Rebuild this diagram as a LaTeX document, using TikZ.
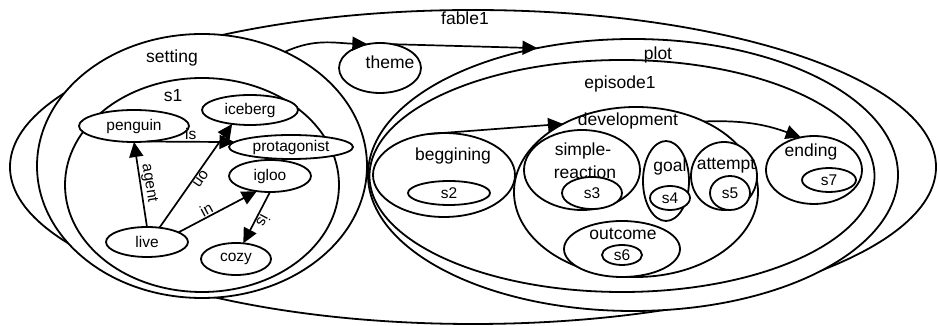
\documentclass[tikz,border=0pt]{standalone}
\usepackage{fontspec}
\setmainfont{Liberation Sans}
\usetikzlibrary{arrows.meta,shapes.geometric}

\tikzset{
  blob/.style={ellipse, draw, fill=white, line width=1.8pt, inner sep=0pt, outer sep=0pt},
  leaf/.style={blob, font=\fontsize{15.5}{15.5}\selectfont},
  clbl/.style={font=\fontsize{17.5}{17.5}\selectfont, inner sep=0pt},
  elbl/.style={font=\fontsize{15.5}{15.5}\selectfont, inner sep=1pt, anchor=south},
  arr/.style={line width=1.7pt, -{Triangle[length=15pt,width=14pt]}},
}

\begin{document}
\begin{tikzpicture}[x=1pt,y=1pt]
\useasboundingbox (0,0) rectangle (938,326);

% outer story
\node[blob, minimum width=926pt, minimum height=314pt] (fable1) at (473,159) {};

% setting cluster
\node[blob, minimum width=330pt, minimum height=264pt] (setting) at (202,160) {};
\node[blob, minimum width=274pt, minimum height=214pt] (s1) at (202,141) {};
\node[leaf, minimum width=110pt, minimum height=32pt] (penguin) at (134,200) {penguin};
\node[leaf, minimum width=96pt, minimum height=30pt] (iceberg) at (250,216) {iceberg};
\node[leaf, minimum width=124pt, minimum height=24pt] (protagonist) at (291,179) {protagonist};
\node[leaf, minimum width=82pt, minimum height=32pt] (igloo) at (270,150) {igloo};
\node[leaf, minimum width=82pt, minimum height=30pt] (live) at (147,84) {live};
\node[leaf, minimum width=70pt, minimum height=32pt] (cozy) at (236,67) {cozy};

% theme
\node[blob, minimum width=82pt, minimum height=50pt] (theme) at (380,258) {};

% plot cluster
\node[blob, minimum width=530pt, minimum height=272pt] (plot) at (633,151) {};
\node[blob, minimum width=505pt, minimum height=232pt] (episode1) at (622,150) {};
\node[blob, minimum width=142pt, minimum height=84pt] (beggining) at (444,151) {};
\node[leaf, minimum width=82pt, minimum height=24pt] (s2) at (449,133) {s2};
\node[blob, minimum width=244pt, minimum height=170pt] (development) at (636,134) {};
\node[blob, minimum width=116pt, minimum height=80pt] (simplereaction) at (582,156) {};
\node[leaf, minimum width=60pt, minimum height=32pt] (s3) at (592,133) {s3};
\node[blob, minimum width=46pt, minimum height=80pt] (goal) at (666,145) {};
\node[leaf, minimum width=40pt, minimum height=24pt] (s4) at (670,128) {s4};
\node[blob, minimum width=66pt, minimum height=68pt] (attempt) at (724,150) {};
\node[leaf, minimum width=40pt, minimum height=34pt] (s5) at (730,133) {s5};
\node[blob, minimum width=116pt, minimum height=56pt] (outcome) at (622,77) {};
\node[leaf, minimum width=40pt, minimum height=20pt] (s6) at (622,71) {s6};
\node[blob, minimum width=96pt, minimum height=68pt] (ending) at (814,156) {};
\node[leaf, minimum width=54pt, minimum height=24pt] (s7) at (829,146) {s7};

% connectors between clusters
\draw[arr] (setting.54) to[out=25,in=178] (theme.118);
\draw[arr] (theme.62) -- (plot.127);
\draw[arr] (beggining.112) -- (development.137);
\draw[arr] (development.46) to[out=2,in=160] (ending.112);

% connectors inside s1
\draw[arr] (penguin.-50) -- (protagonist.175) node[elbl,pos=0.5] {is};
\draw[arr] (live.north) -- (penguin.south) node[elbl,pos=0.5,rotate=-81] {agent};
\draw[arr] (live.49) -- (iceberg.218) node[elbl,pos=0.5,rotate=-125] {on};
\draw[arr] (live.17) -- (igloo.229) node[elbl,pos=0.4,rotate=28] {in};
\draw[arr] (igloo.south) -- (cozy.65) node[elbl,pos=0.5,rotate=-118] {is};

% cluster titles
\node[clbl] (tfable1) at (465,308) {fable1};
\node[clbl] (tsetting) at (172,268) {setting};
\node[clbl] (ts1) at (173,230) {s1};
\node[clbl] (ttheme) at (390,264) {theme};
\node[clbl] (tplot) at (658,271) {plot};
\node[clbl] (tepisode1) at (620,242) {episode1};
\node[clbl] (tdevelopment) at (628,205) {development};
\node[clbl] (tbeggining) at (453,170) {beggining};
\node[clbl] (tsimple) at (583,175) {simple-};
\node[clbl] (treaction) at (585,154) {reaction};
\node[clbl] (tgoal) at (670,159) {goal};
\node[clbl] (tattempt) at (726,160) {attempt};
\node[clbl] (toutcome) at (623,92) {outcome};
\node[clbl] (tending) at (811,174) {ending};
\end{tikzpicture}
\end{document}
